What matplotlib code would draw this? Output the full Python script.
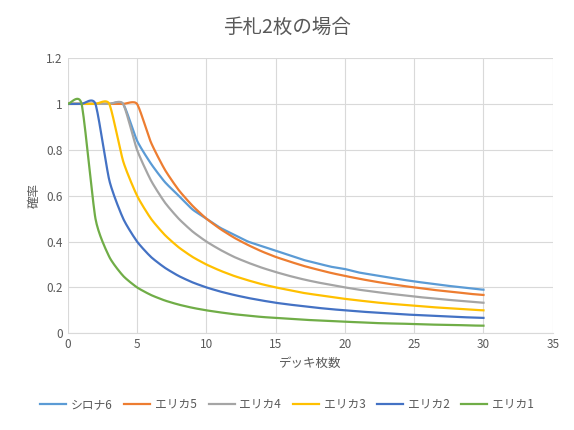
import matplotlib
matplotlib.use("Agg")
import matplotlib.pyplot as plt
import numpy as np

plt.rcParams['font.family'] = ['Noto Sans CJK JP', 'DejaVu Sans']

x = list(range(0, 31))
shirona6 = [1,1,1,1,1,0.84,0.74,0.66,0.60,0.54,0.50,0.46,0.43,0.40,0.38,0.36,0.34,0.32,0.305,0.29,0.28,0.265,0.255,0.245,0.235,0.226,0.218,0.21,0.203,0.196,0.19]
erika5 = [1,1,1,1,1,1,0.833,0.714,0.625,0.556,0.5,0.455,0.417,0.385,0.357,0.333,0.313,0.294,0.278,0.263,0.25,0.238,0.227,0.217,0.208,0.2,0.192,0.185,0.179,0.172,0.167]
erika4 = [1,1,1,1,1,0.8,0.667,0.571,0.5,0.444,0.4,0.364,0.333,0.308,0.286,0.267,0.25,0.235,0.222,0.211,0.2,0.19,0.182,0.174,0.167,0.16,0.154,0.148,0.143,0.138,0.133]
erika3 = [1,1,1,1,0.75,0.6,0.5,0.429,0.375,0.333,0.3,0.273,0.25,0.231,0.214,0.2,0.188,0.176,0.167,0.158,0.15,0.143,0.136,0.13,0.125,0.12,0.115,0.111,0.107,0.103,0.1]
erika2 = [1,1,1,0.667,0.5,0.4,0.333,0.286,0.25,0.222,0.2,0.182,0.167,0.154,0.143,0.133,0.125,0.118,0.111,0.105,0.1,0.095,0.091,0.087,0.083,0.08,0.077,0.074,0.071,0.069,0.067]
erika1 = [1,1,0.5,0.333,0.25,0.2,0.167,0.143,0.125,0.111,0.1,0.091,0.083,0.077,0.071,0.067,0.063,0.059,0.056,0.053,0.05,0.048,0.045,0.043,0.042,0.04,0.038,0.037,0.036,0.034,0.033]
labels = ['シロナ6', 'エリカ5', 'エリカ4', 'エリカ3', 'エリカ2', 'エリカ1']
colors = ['#5B9BD5', '#ED7D31', '#A5A5A5', '#FFC000', '#4472C4', '#70AD47']

def smooth(xs, ys, n=16, k=0.3):
    xs = np.asarray(xs, float); ys = np.asarray(ys, float)
    px = np.concatenate([[2*xs[0]-xs[1]], xs, [2*xs[-1]-xs[-2]]])
    py = np.concatenate([[ys[0]], ys, [ys[-1]]])
    ox, oy = [], []
    t = np.linspace(0, 1, n, endpoint=False)
    h00 = 2*t**3 - 3*t**2 + 1; h10 = t**3 - 2*t**2 + t
    h01 = -2*t**3 + 3*t**2; h11 = t**3 - t**2
    for i in range(1, len(px)-2):
        for arr, out in ((px, ox), (py, oy)):
            m1 = k*(arr[i+1]-arr[i-1]); m2 = k*(arr[i+2]-arr[i])
            out.extend(h00*arr[i] + h10*m1 + h01*arr[i+1] + h11*m2)
    ox.append(xs[-1]); oy.append(ys[-1])
    return ox, oy

fig = plt.figure(figsize=(5.74, 4.30), dpi=100)
ax = fig.add_axes([0.118, 0.225, 0.845, 0.64])
for ys, lab, c in zip([shirona6, erika5, erika4, erika3, erika2, erika1], labels, colors):
    sx, sy = smooth(x, ys)
    ax.plot(sx, sy, color=c, lw=1.6, label=lab)
ax.set_xlim(0, 35)
ax.set_ylim(0, 1.2)
ax.set_xticks(range(0, 36, 5))
ax.set_yticks([0, 0.2, 0.4, 0.6, 0.8, 1, 1.2])
ax.set_yticklabels(['0', '0.2', '0.4', '0.6', '0.8', '1', '1.2'])
ax.grid(True, color='#D9D9D9', lw=0.8)
ax.set_axisbelow(True)
for s in ['top', 'right', 'left']:
    ax.spines[s].set_visible(False)
ax.spines['bottom'].set_color('#D9D9D9')
ax.tick_params(length=0, labelsize=8.5, colors='#595959')
ax.set_xlabel('デッキ枚数', fontsize=9, color='#595959')
ax.set_ylabel('確率', fontsize=9, color='#595959')
fig.suptitle('手札2枚の場合', fontsize=14, color='#595959', y=0.96)
fig.legend(loc='lower center', ncol=6, frameon=False, fontsize=8.5, bbox_to_anchor=(0.5, 0.02),
           handlelength=2.2, handletextpad=0.4, columnspacing=1.0, labelcolor='#595959')
fig.savefig('out.png')
